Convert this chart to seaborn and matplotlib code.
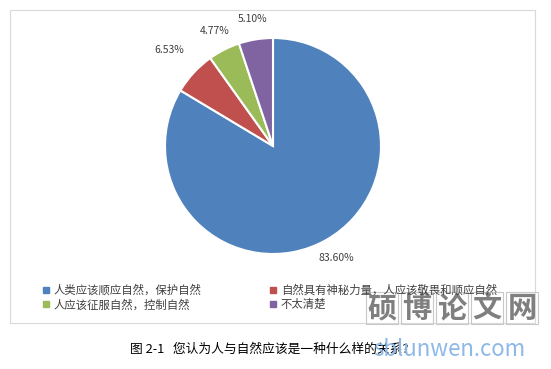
import numpy as np
import matplotlib.pyplot as plt
import seaborn as sns
from matplotlib.lines import Line2D
from matplotlib.patches import Rectangle

sns.set_theme(style="white")
plt.rcParams['font.family'] = ['Noto Sans CJK SC', 'DejaVu Sans']

# 数据
categories = ['人类应该顺应自然，保护自然', '自然具有神秘力量，人应该敬畏和顺应自然',
              '人应该征服自然，控制自然', '不太清楚']
values = [83.60, 6.53, 4.77, 5.10]
colors = ['#4F81BD', '#C0504D', '#9BBB59', '#8064A2']
caption = '图 2-1   您认为人与自然应该是一种什么样的关系?'

fig = plt.figure(figsize=(5.51, 3.69), dpi=100)

# 外框
fig.patches.append(Rectangle((10 / 551, 1 - 323 / 369), 525 / 551, 313 / 369,
                             transform=fig.transFigure, fill=False,
                             edgecolor='#D9D9D9', linewidth=0.8))

ax = fig.add_axes([138 / 551, 1 - 281 / 369, 270 / 551, 270 / 369])
wedges, texts, autotexts = ax.pie(values, colors=colors, startangle=90, counterclock=False,
                                  autopct='%.2f%%', pctdistance=1.19,
                                  wedgeprops=dict(edgecolor='white', linewidth=1.5),
                                  textprops=dict(fontsize=7.5, color='#404040'))
ax.set_xlim(-1.25, 1.25)
ax.set_ylim(-1.25, 1.25)
# 红色标签稍微外移
x, y = autotexts[1].get_position()
autotexts[1].set_position((x * 1.1, y * 1.1))

# 图例 (按行排列)
handles = [Line2D([], [], marker='s', linestyle='', color=c, markersize=4) for c in colors]
order = [0, 2, 1, 3]
fig.legend([handles[i] for i in order], [categories[i] for i in order],
           ncol=2, loc='upper left', bbox_to_anchor=(43 / 551, 1 - 284 / 369),
           frameon=False, fontsize=8.2, handlelength=0.6, handletextpad=0.35,
           columnspacing=6.0, labelspacing=0.3, labelcolor='#404040',
           borderpad=0, borderaxespad=0)

# 标题
fig.text(269 / 551, 1 - 349 / 369, caption, ha='center', va='center',
         fontsize=9.2, color='black')

# 水印
for i, ch in enumerate('硕博论文网'):
    fig.text((382 + i * 35) / 551, 1 - 308 / 369, ch, ha='center', va='center',
             fontsize=21, color='#7F7F7F', fontweight='bold',
             bbox=dict(boxstyle='square,pad=0.05', fc='none', ec='#C8C8C8', lw=0.8))
fig.text(449 / 551, 1 - 350 / 369, 'sblunwen.com', ha='center', va='center',
         fontsize=16, color='#8DB8E8')

fig.savefig('out.png', dpi=100)
